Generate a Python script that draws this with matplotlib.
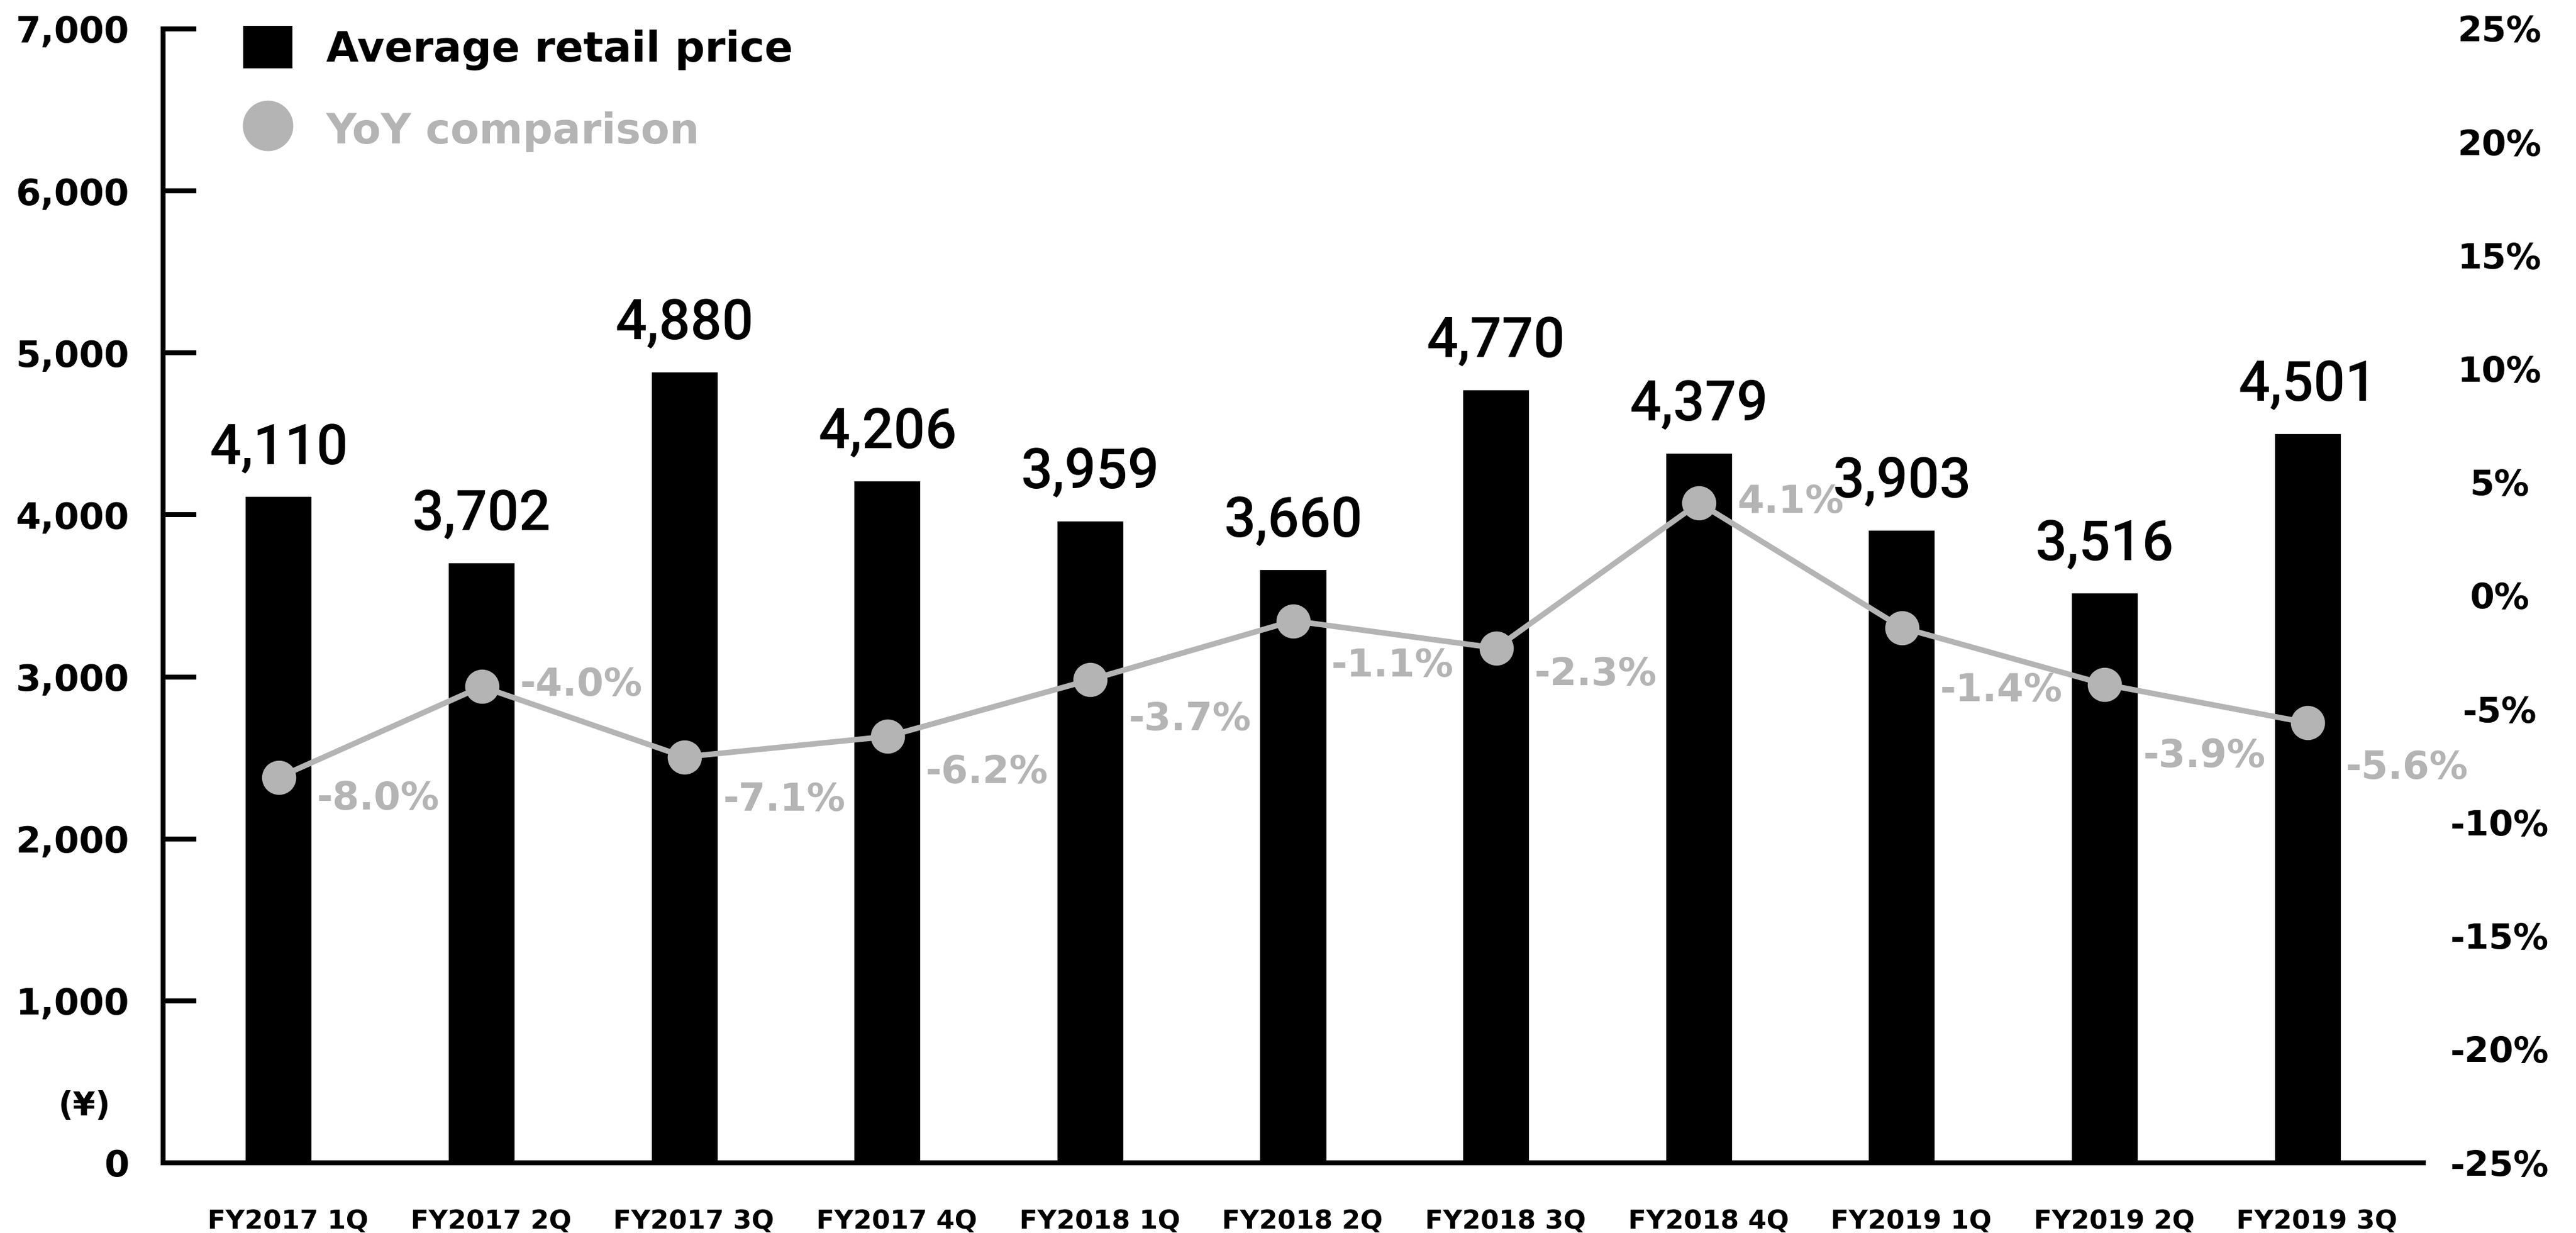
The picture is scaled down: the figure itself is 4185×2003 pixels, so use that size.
import matplotlib
matplotlib.use("Agg")
import matplotlib.pyplot as plt
from matplotlib.patches import Patch
from matplotlib.lines import Line2D
from matplotlib.transforms import ScaledTranslation

# ---- data -------------------------------------------------------------
quarters = ["FY2017 1Q", "FY2017 2Q", "FY2017 3Q", "FY2017 4Q",
            "FY2018 1Q", "FY2018 2Q", "FY2018 3Q", "FY2018 4Q",
            "FY2019 1Q", "FY2019 2Q", "FY2019 3Q"]
avg_price = [4110, 3702, 4880, 4206, 3959, 3660, 4770, 4379, 3903, 3516, 4501]
yoy_pct = [-8.0, -4.0, -7.1, -6.2, -3.7, -1.1, -2.3, 4.1, -1.4, -3.9, -5.6]
price_ticks = [0, 1000, 2000, 3000, 4000, 5000, 6000, 7000]
pct_ticks = [-25, -20, -15, -10, -5, 0, 5, 10, 15, 20, 25]

# downward shift (px) of each YoY label relative to its marker
yoy_label_drop = [29, -8, 64, 53, 59, 67, 37, -7, 96, 111, 68]

# ---- layout -----------------------------------------------------------
W, H, DPI = 4185, 2003, 100
PX = 72 / DPI  # points per pixel
BLACK = "#000000"
GREY = "#b4b4b4"
plt.rcParams["font.family"] = ["DejaVu Sans"]
plt.rcParams["font.weight"] = "bold"

fig = plt.figure(figsize=(W / DPI, H / DPI), dpi=DPI)
ax = fig.add_axes([265 / W, 1 - 1889 / H, (3937 - 265) / W, (1889 - 47) / H])

x = list(range(len(quarters)))
ax.bar(x, avg_price, width=0.325, color=BLACK, zorder=2)
ax.set_xlim(-0.57, 10.57)
ax.set_ylim(0, 7000)

ax.set_yticks(price_ticks)
ax.set_yticklabels([f"{v:,}" for v in price_ticks], fontweight="bold")
ax.set_xticks(x)
ax.set_xticklabels(quarters, fontweight="bold")

for side in ("top", "right"):
    ax.spines[side].set_visible(False)
for side in ("left", "bottom"):
    ax.spines[side].set_linewidth(8 * PX)
    ax.spines[side].set_color(BLACK)

ax.tick_params(axis="y", direction="in", length=54 * PX, width=8 * PX,
               pad=40, labelsize=42, colors=BLACK)
ax.tick_params(axis="x", length=0, pad=53, labelsize=31, colors=BLACK)
shift = ScaledTranslation(15 / DPI, 0, fig.dpi_scale_trans)
for lbl in ax.get_xticklabels():
    lbl.set_transform(lbl.get_transform() + shift)

# value labels above bars
for xi, v in zip(x, avg_price):
    ax.annotate(f"{v:,}", (xi, v), xytext=(0, 36 * PX), textcoords="offset points",
                ha="center", va="bottom", fontsize=65, fontweight="medium",
                family=["Roboto", "Liberation Sans", "DejaVu Sans"], color=BLACK)

# ---- YoY line on secondary axis -----------------------------------------
ax2 = ax.twinx()
ax2.set_ylim(-25, 25)
ax2.set_yticks(pct_ticks)
ax2.set_yticklabels([f"{t}%" for t in pct_ticks], fontweight="bold")
for s in ax2.spines.values():
    s.set_visible(False)
ax2.tick_params(axis="y", length=0, pad=124 * PX, labelsize=41, colors=BLACK)
for lbl in ax2.get_yticklabels():
    lbl.set_ha("center")

ax2.plot(x, yoy_pct, color=GREY, lw=6.5, marker="o", ms=39, zorder=3)
for xi, p, dy in zip(x, yoy_pct, yoy_label_drop):
    ax2.annotate(f"{p:.1f}%", (xi, p), xytext=(62 * PX, -(dy + 23) * PX),
                 textcoords="offset points", ha="left", va="baseline",
                 fontsize=45, fontweight="bold", color=GREY)

# currency unit
fig.text(137 / W, 1 - 1797 / H, "(¥)", ha="center", va="center",
         fontsize=38, fontweight="bold", color=BLACK)

# legend
handles = [Patch(facecolor=BLACK, edgecolor="none"),
           Line2D([], [], color=GREY, marker="o", ls="none", ms=58)]
leg = fig.legend(handles, ["Average retail price", "YoY comparison"],
                 loc="upper left", bbox_to_anchor=(395 / W, 1 - 42 / H),
                 frameon=False, prop={"size": 49, "weight": "bold"},
                 borderpad=0, borderaxespad=0,
                 handlelength=80 / 68, handleheight=80 / 68, handletextpad=0.8,
                 labelspacing=0.91)
leg.get_texts()[0].set_color(BLACK)
leg.get_texts()[1].set_color(GREY)

fig.savefig("out.png", dpi=DPI, facecolor="white")
